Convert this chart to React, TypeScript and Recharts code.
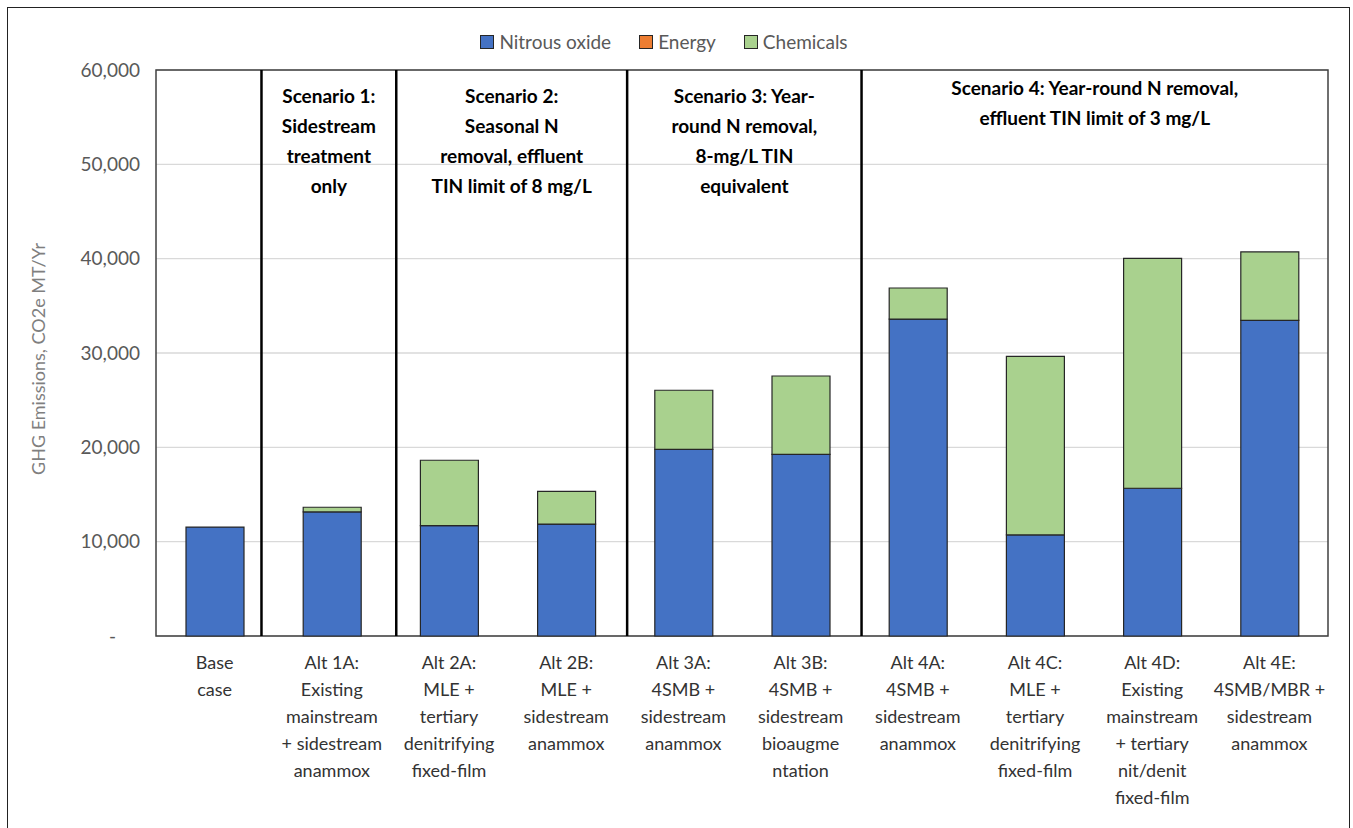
import React from 'react';
import {
  BarChart,
  Bar,
  XAxis,
  YAxis,
  CartesianGrid,
  Legend,
  ReferenceLine,
  ReferenceArea,
} from 'recharts';

const categories = ['Base case', 'Alt 1A', 'Alt 2A', 'Alt 2B', 'Alt 3A', 'Alt 3B', 'Alt 4A', 'Alt 4C', 'Alt 4D', 'Alt 4E'];

const tickLabels: string[][] = [
  ['Base', 'case'],
  ['Alt 1A:', 'Existing', 'mainstream', '+ sidestream', 'anammox'],
  ['Alt 2A:', 'MLE +', 'tertiary', 'denitrifying', 'fixed-film'],
  ['Alt 2B:', 'MLE +', 'sidestream', 'anammox'],
  ['Alt 3A:', '4SMB +', 'sidestream', 'anammox'],
  ['Alt 3B:', '4SMB +', 'sidestream', 'bioaugme', 'ntation'],
  ['Alt 4A:', '4SMB +', 'sidestream', 'anammox'],
  ['Alt 4C:', 'MLE +', 'tertiary', 'denitrifying', 'fixed-film'],
  ['Alt 4D:', 'Existing', 'mainstream', '+ tertiary', 'nit/denit', 'fixed-film'],
  ['Alt 4E:', '4SMB/MBR +', 'sidestream', 'anammox'],
];

const nitrousOxide = [11550, 13150, 11700, 11870, 19780, 19260, 33600, 10710, 15660, 33460];
const energy = [0, 0, 0, 0, 0, 0, 0, 0, 0, 0];
const chemicals = [0, 500, 6930, 3470, 6270, 8300, 3290, 18940, 24380, 7250];

const seriesNames = ['Nitrous oxide', 'Energy', 'Chemicals'];
const seriesColors = ['#4472C4', '#ED7D31', '#A9D18E'];

const yTicks = [0, 10000, 20000, 30000, 40000, 50000, 60000];

// scenario dividers, in category-slot units (0..10)
const dividerPositions = [0.9, 2.05, 4.02, 6.02];
const scenarioRanges: [number, number][] = [
  [0.9, 2.05],
  [2.05, 4.02],
  [4.02, 6.02],
  [6.02, 10],
];
const scenarioLabels: string[][] = [
  ['Scenario 1:', 'Sidestream', 'treatment', 'only'],
  ['Scenario 2:', 'Seasonal N', 'removal, effluent', 'TIN limit of 8 mg/L'],
  ['Scenario 3: Year-', 'round N removal,', '8-mg/L TIN', 'equivalent'],
  ['Scenario 4: Year-round N removal,', 'effluent TIN limit of 3 mg/L'],
];

// each category occupies one unit slot; its bar sits at the slot centre
const data = categories.map((name, i) => ({
  name,
  slot: i + 0.5,
  nitrous: nitrousOxide[i],
  energy: energy[i],
  chemicals: chemicals[i],
}));
const xTicks = data.map((d) => d.slot);

const FONT = 'Lato, "Open Sans", sans-serif';

const XTick = (props: any) => {
  const { x, y, payload } = props;
  const idx = Math.round(payload.value - 0.5);
  const lines = tickLabels[idx] || [];
  return (
    <g>
      {lines.map((ln, i) => (
        <text
          key={i}
          x={x}
          y={y + 31 + i * 27}
          textAnchor="middle"
          fontFamily={FONT}
          fontSize={18}
          fill="#333333"
        >
          {ln}
        </text>
      ))}
    </g>
  );
};

const YTick = (props: any) => {
  const { x, y, payload } = props;
  const v = payload.value as number;
  const txt = v === 0 ? '-' : v.toLocaleString('en-US');
  return (
    <text
      x={v === 0 ? x - 24 : x}
      y={y}
      dy="0.35em"
      textAnchor="end"
      fontFamily={FONT}
      fontSize={19}
      fill="#595959"
    >
      {txt}
    </text>
  );
};

const YLabel = (props: any) => {
  const vb = props.viewBox || {};
  const cx = (vb.x || 0) + 40;
  const cy = (vb.y || 0) + (vb.height || 0) / 2 + 6;
  return (
    <text
      transform={`translate(${cx}, ${cy}) rotate(-90)`}
      textAnchor="middle"
      dominantBaseline="middle"
      fontFamily={FONT}
      fontSize={18}
      fill="#7f7f7f"
    >
      GHG Emissions, CO2e MT/Yr
    </text>
  );
};

const makeScenarioLabel = (lines: string[]) => (props: any) => {
  const vb = props.viewBox || {};
  const cx = (vb.x || 0) + (vb.width || 0) / 2;
  const short = lines.length <= 2;
  const top = (vb.y || 0) + (short ? 25 : 33);
  const step = 30;
  return (
    <g>
      {lines.map((ln, i) => (
        <text
          key={i}
          x={cx}
          y={top + i * step}
          textAnchor="middle"
          fontFamily={FONT}
          fontWeight={700}
          fontSize={19}
          fill="#000000"
        >
          {ln}
        </text>
      ))}
    </g>
  );
};

const LegendContent = () => (
  <div
    style={{
      display: 'flex',
      justifyContent: 'center',
      gap: 28,
      paddingTop: 11,
      height: 50,
      boxSizing: 'border-box',
      fontFamily: FONT,
      fontSize: 19,
      color: '#595959',
    }}
  >
    {seriesNames.map((n, i) => (
      <span key={n} style={{ display: 'flex', alignItems: 'center', lineHeight: '22px', height: 22 }}>
        <span
          style={{
            display: 'inline-block',
            width: 12,
            height: 12,
            background: seriesColors[i],
            border: '1px solid #262626',
            marginRight: 5,
          }}
        />
        {n}
      </span>
    ))}
  </div>
);

export default function App() {
  return (
    <div style={{ position: 'absolute', left: 0, top: 0, width: 1353, height: 828, background: '#fff', overflow: 'hidden' }}>
      <div
        style={{
          position: 'absolute',
          left: 7,
          top: 7,
          width: 1343,
          height: 840,
          border: '1.5px solid #222',
          boxSizing: 'border-box',
        }}
      />
      <div style={{ position: 'absolute', left: 0, top: 0 }}>
        <BarChart
          width={1353}
          height={828}
          data={data}
          margin={{ top: 20, right: 25, left: 0, bottom: 0 }}
        >
          <CartesianGrid vertical={false} stroke="#d9d9d9" strokeWidth={1.3} />
          <XAxis
            dataKey="slot"
            type="number"
            domain={[0, 10]}
            allowDataOverflow
            ticks={xTicks}
            interval={0}
            tickLine={false}
            axisLine={false}
            tickSize={0}
            height={192}
            tick={<XTick />}
          />
          <YAxis
            domain={[0, 60000]}
            ticks={yTicks}
            interval={0}
            width={156}
            tickLine={false}
            axisLine={false}
            tickSize={0}
            tickMargin={16}
            tick={<YTick />}
            label={{ content: <YLabel /> } as any}
          />
          <Legend verticalAlign="top" height={50} content={<LegendContent />} />
          <Bar dataKey="nitrous" name={seriesNames[0]} stackId="a" barSize={58} fill={seriesColors[0]} stroke="#262626" strokeWidth={1.2} isAnimationActive={false} />
          <Bar dataKey="energy" name={seriesNames[1]} stackId="a" barSize={58} fill={seriesColors[1]} stroke="#262626" strokeWidth={1.2} isAnimationActive={false} />
          <Bar dataKey="chemicals" name={seriesNames[2]} stackId="a" barSize={58} fill={seriesColors[2]} stroke="#262626" strokeWidth={1.2} isAnimationActive={false} />
          {scenarioRanges.map((r, i) => (
            <ReferenceArea
              key={'s' + i}
              x1={r[0]}
              x2={r[1]}
              y1={0}
              y2={60000}
              fill="none"
              stroke="none"
              ifOverflow="visible"
              label={{ content: makeScenarioLabel(scenarioLabels[i]) } as any}
            />
          ))}
          {dividerPositions.map((p) => (
            <ReferenceLine key={'d' + p} x={p} stroke="#000" strokeWidth={2.5} ifOverflow="visible" />
          ))}
          <ReferenceArea
            x1={0}
            x2={10}
            y1={0}
            y2={60000}
            fill="none"
            stroke="#404040"
            strokeWidth={1.5}
            ifOverflow="visible"
          />
        </BarChart>
      </div>
    </div>
  );
}
